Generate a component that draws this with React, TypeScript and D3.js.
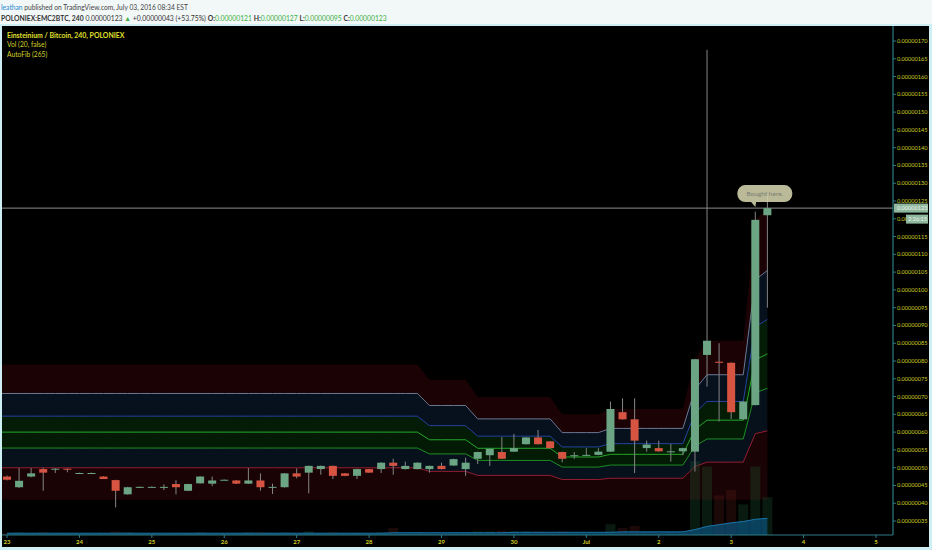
import React from "react";
import * as d3 from "d3";

const W = 932;
const H = 550;

// 4h bars of POLONIEX:EMC2BTC from Jun 23 00:00, prices in 1e-8 BTC
const barOpen = [
  47.5, 44.5, 47.5, 49.6, 49.5, 49.7, 48.5, 48.5, 47.5, 46.5,
  42.5, 44.6, 44.6, 44.6, 45.4, 43.5, 45.6, 45.5, 46.6, 46.4,
  45.5, 46.4, 44.6, 44.5, 48.4, 48.6, 49.6, 50.5, 48.4, 47.7,
  49.6, 49.6, 51.4, 49.6, 49.6, 49.6, 50.5, 50.6, 49.6, 52.5,
  53.5, 54.4, 54.5, 56.6, 58.5, 57.4, 54.4, 53.5, 53.4, 53.6,
  54.5, 65.6, 63.6, 55.5, 55.5, 54.6, 54.6, 54.5, 81.7, 79.8,
  79.5, 63.6, 67.6, 121,
];
const barHigh = [
  47.8, 49.9, 49.9, 50.0, 49.8, 49.8, 48.6, 48.6, 47.6, 46.6,
  44.6, 44.7, 44.7, 45.3, 46.5, 45.5, 47.6, 47.5, 46.7, 46.5,
  49.9, 48.4, 45.5, 48.5, 49.8, 50.6, 50.6, 50.6, 48.5, 49.7,
  49.7, 51.5, 52.5, 51.7, 51.5, 50.6, 51.4, 52.5, 52.8, 54.5,
  55.4, 58.6, 59.5, 58.6, 60.6, 57.5, 54.5, 54.4, 55.5, 55.5,
  68.6, 69.5, 69.5, 57.6, 57.6, 56.7, 55.6, 80.6, 167.5, 85.0,
  79.6, 68.7, 122.0, 127,
];
const barLow = [
  46.4, 44.3, 47.3, 43.5, 48.5, 48.7, 48.4, 48.4, 46.8, 38.8,
  42.4, 44.5, 44.5, 43.7, 42.5, 43.4, 45.5, 44.8, 46.5, 45.4,
  45.4, 43.5, 42.6, 44.4, 47.0, 42.8, 48.0, 46.8, 47.6, 46.8,
  48.5, 48.5, 48.0, 49.5, 49.5, 48.6, 49.5, 50.5, 47.7, 51.0,
  50.5, 52.4, 54.4, 56.5, 56.5, 55.4, 51.5, 52.5, 53.3, 53.5,
  54.4, 63.5, 48.5, 54.5, 54.5, 51.7, 53.5, 48.9, 72.8, 63.0,
  63.7, 63.5, 67.5, 95,
];
const barClose = [
  46.6, 46.3, 48.4, 48.6, 49.7, 49.5, 48.5, 48.5, 46.8, 43.5,
  44.5, 44.6, 44.6, 44.6, 44.5, 45.4, 47.5, 46.4, 46.6, 45.5,
  46.4, 44.5, 44.6, 48.4, 47.5, 50.5, 50.5, 47.7, 47.7, 49.6,
  48.6, 51.4, 50.5, 50.5, 51.4, 50.5, 49.6, 52.4, 51.4, 54.4,
  55.3, 52.5, 55.5, 58.5, 56.6, 55.5, 52.5, 53.5, 53.6, 54.5,
  66.5, 63.6, 57.6, 56.5, 54.6, 54.6, 55.5, 80.5, 85.7, 79.5,
  65.6, 68.6, 119.7, 123,
];
const barVolume = [
  0.2, 0.3, 0.2, 0.3, 0.1, 0.1, 0.1, 0.1, 0.2, 0.4,
  0.3, 0.1, 0.1, 0.1, 0.2, 0.2, 0.3, 0.2, 0.1, 0.2,
  0.3, 0.3, 0.2, 0.3, 0.2, 0.4, 0.2, 0.3, 0.2, 0.2,
  0.2, 0.3, 0.8, 0.2, 0.3, 0.2, 0.2, 0.3, 0.3, 0.4,
  0.4, 0.5, 0.4, 0.4, 0.4, 0.3, 0.4, 0.2, 0.2, 0.2,
  1.2, 0.8, 1.0, 0.3, 0.3, 0.3, 0.3, 8.2, 7.6, 4.4,
  5.0, 3.4, 7.6, 4.2,
];
const volumeMa = [
  0.2, 0.2, 0.2, 0.2, 0.2, 0.2, 0.2, 0.2, 0.2, 0.2,
  0.2, 0.2, 0.2, 0.2, 0.2, 0.2, 0.2, 0.2, 0.2, 0.2,
  0.2, 0.2, 0.2, 0.2, 0.2, 0.2, 0.2, 0.2, 0.2, 0.2,
  0.2, 0.2, 0.25, 0.25, 0.25, 0.25, 0.25, 0.25, 0.25, 0.25,
  0.25, 0.25, 0.3, 0.3, 0.3, 0.3, 0.3, 0.3, 0.3, 0.3,
  0.3, 0.35, 0.35, 0.35, 0.35, 0.35, 0.35, 0.6, 0.95, 1.15,
  1.35, 1.5, 1.75, 1.85,
];

// AutoFib (265): range top changes at these bars, bottom stays put
const fibHighSteps: [number, number][] = [
  [0, 79], [35, 74.7], [39, 69.9], [46, 65], [50, 66.5],
  [57, 80.5], [58, 85.7], [62, 119.7], [63, 123],
];
const fibLow = 41;
const fibLevels = [0, 0.236, 0.382, 0.5, 0.618, 0.786, 1];
const fibLineColors = [null, "#951d30", "#1d8e24", "#24a82a", "#2442a0", "#6b7894", null];
const fibFillColors = ["#1a0305", "#07111c", "#031a05", "#041c06", "#07111d", "#1b0305"];

const dayLabels = ["23", "24", "25", "26", "27", "28", "29", "30", "Jul", "2", "3", "4", "5"];
const barsPerDay = 6;
const priceTicks = d3.range(35, 171, 5);
const lastPrice = 123;
const countdown = "2:26:15";
const note = { bar: 62, price: 123, text: "Bought here." };

const UP = "#6ba583";
const DOWN = "#d75442";
const AXIS = "#2c7c84";
const YELLOW = "#cfcf24";
const FONT = "Lato, 'Open Sans', sans-serif";

const plot = { left: 2, right: 893, top: 26, bottom: 535 };

export default function App() {
  const n = barClose.length;
  const x = d3.scaleLinear().domain([0, 72]).range([7, 876]);
  const y = d3.scaleLinear().domain([35, 170]).range([521, 41]);
  const vy = d3.scaleLinear().domain([0, 10]).range([plot.bottom, plot.bottom - 90]);

  const fibHighAt = (i: number) => {
    let v = fibHighSteps[0][1];
    for (const [from, hi] of fibHighSteps) if (i >= from) v = hi;
    return v;
  };
  const bandIdx = [-1, ...d3.range(n)];
  const lvl = (i: number, f: number) => fibLow + f * (fibHighAt(Math.max(0, i)) - fibLow);

  const bandArea = (f0: number, f1: number) =>
    d3
      .area<number>()
      .x((i) => x(i))
      .y0((i) => y(lvl(i, f0)))
      .y1((i) => y(lvl(i, f1)))(bandIdx) || "";
  const bandLine = (f: number) =>
    d3
      .line<number>()
      .x((i) => x(i))
      .y((i) => y(lvl(i, f)))(bandIdx) || "";

  const maArea =
    d3
      .area<number>()
      .x((i) => x(i))
      .y0(vy(0))
      .y1((i) => vy(volumeMa[i]))(d3.range(n)) || "";
  const maLine =
    d3
      .line<number>()
      .x((i) => x(i))
      .y((i) => vy(volumeMa[i]))(d3.range(n)) || "";

  const bodyW = 8;
  const volW = 10;

  const nx = x(note.bar);
  const ny = y(note.price);
  const bubbleW = 55;
  const bubbleH = 17;
  const bx = nx - 18;
  const by = ny - bubbleH - 6;

  return (
    <svg
      width={W}
      height={H}
      style={{ position: "absolute", left: 0, top: 0, display: "block" }}
      fontFamily={FONT}
    >
      <defs>
        <clipPath id="plotClip">
          <rect x={plot.left} y={plot.top} width={plot.right - plot.left} height={plot.bottom - plot.top} />
        </clipPath>
      </defs>
      <rect x={0} y={0} width={W} height={H} fill="#f2f7f8" />
      <rect x={0} y={24} width={W} height={H - 24} fill="#cdeef2" />
      <rect x={2} y={26} width={927} height={521} fill="#000" />

      {/* header */}
      <text x={1} y={10} fontSize={6.7} fill="#444">
        <tspan fill="#2a8ad0">leathan</tspan>
        <tspan> published on TradingView.com, July 03, 2016 08:34 EST</tspan>
      </text>
      <text x={1} y={20.5} fontSize={6.8} fill="#333">
        <tspan fontWeight="bold">POLONIEX:EMC2BTC, 240</tspan>
        <tspan> 0.00000123 </tspan>
        <tspan fill="#3cb043">▲</tspan>
        <tspan> +0.00000043 (+53.75%) </tspan>
        <tspan fontWeight="bold">O:</tspan>
        <tspan fill="#3cb043">0.00000121</tspan>
        <tspan fontWeight="bold"> H:</tspan>
        <tspan fill="#3cb043">0.00000127</tspan>
        <tspan fontWeight="bold"> L:</tspan>
        <tspan fill="#3cb043">0.00000095</tspan>
        <tspan fontWeight="bold"> C:</tspan>
        <tspan fill="#3cb043">0.00000123</tspan>
      </text>

      <g clipPath="url(#plotClip)">
        {/* fib fills and lines */}
        {fibFillColors.map((c, k) => (
          <path key={"f" + k} d={bandArea(fibLevels[k], fibLevels[k + 1])} fill={c} />
        ))}
        {fibLevels.map((f, k) =>
          fibLineColors[k] ? (
            <path key={"l" + k} d={bandLine(f)} fill="none" stroke={fibLineColors[k] as string} strokeWidth={1} />
          ) : null
        )}

        {/* volume */}
        {barVolume.map((v, i) => (
          <rect
            key={"v" + i}
            x={x(i) - volW / 2}
            y={vy(v)}
            width={volW}
            height={vy(0) - vy(v)}
            fill={barClose[i] >= barOpen[i] ? "#1f5a34" : "#5a1f1a"}
            opacity={0.3}
          />
        ))}
        <path d={maArea} fill="#0b5078" opacity={0.75} />
        <path d={maLine} fill="none" stroke="#1a74a8" strokeWidth={1} />

        {/* last price line */}
        <line x1={plot.left} x2={plot.right} y1={y(lastPrice)} y2={y(lastPrice)} stroke="#8c8c8c" strokeWidth={1} />

        {/* candles */}
        {barClose.map((c, i) => {
          const o = barOpen[i];
          const up = c >= o;
          const top = y(Math.max(o, c));
          const h = Math.max(1, y(Math.min(o, c)) - top);
          return (
            <g key={"c" + i}>
              <line x1={x(i)} x2={x(i)} y1={y(barHigh[i])} y2={y(barLow[i])} stroke="#858585" strokeWidth={1} />
              <rect x={x(i) - bodyW / 2} y={top} width={bodyW} height={h} fill={up ? UP : DOWN} />
            </g>
          );
        })}

        {/* note bubble */}
        <g opacity={0.9}>
          <path
            d={`M${nx - 5},${by + bubbleH - 1} L${nx},${ny - 1} L${nx + 1},${by + bubbleH - 1} Z`}
            fill="#cfcfa9"
          />
          <rect x={bx} y={by} width={bubbleW} height={bubbleH} rx={8} fill="#cfcfa9" />
          <text x={bx + bubbleW / 2} y={by + bubbleH / 2 + 2.2} fontSize={6.5} fill="#8a8a80" textAnchor="middle">
            {note.text}
          </text>
        </g>
      </g>

      {/* legend */}
      <text x={7} y={37.5} fontSize={6.9} fontWeight="bold" fill="#e2e22c">
        Einsteinium / Bitcoin, 240, POLONIEX
      </text>
      <text x={7} y={47} fontSize={6.7} fill="#d2d22a">
        Vol (20, false)
      </text>
      <text x={7} y={56.5} fontSize={6.7} fill="#d2d22a">
        AutoFib (265)
      </text>

      {/* axes */}
      <line x1={plot.left} x2={plot.right} y1={plot.bottom} y2={plot.bottom} stroke={AXIS} strokeWidth={1.2} />
      <line x1={plot.right} x2={plot.right} y1={plot.top} y2={plot.bottom} stroke={AXIS} strokeWidth={1.2} />
      {priceTicks.map((p) => (
        <g key={"p" + p}>
          <line x1={plot.right} x2={plot.right + 3} y1={y(p)} y2={y(p)} stroke={AXIS} />
          <text x={plot.right + 4} y={y(p) + 2} fontSize={5.6} fill={YELLOW}>
            {(p * 1e-8).toFixed(8)}
          </text>
        </g>
      ))}
      {dayLabels.map((d, k) => (
        <g key={"d" + k}>
          <line x1={x(k * barsPerDay)} x2={x(k * barsPerDay)} y1={plot.bottom} y2={plot.bottom + 3} stroke={AXIS} />
          <text x={x(k * barsPerDay)} y={543.5} fontSize={6} fontWeight="bold" fill={YELLOW} textAnchor="middle">
            {d}
          </text>
        </g>
      ))}

      {/* last price labels */}
      <rect x={plot.right + 1} y={y(lastPrice) - 4.5} width={34} height={9} fill="#8fb79e" />
      <text x={plot.right + 4} y={y(lastPrice) + 2} fontSize={5.6} fill="#eef4ef">
        {(lastPrice * 1e-8).toFixed(8)}
      </text>
      <rect x={plot.right + 13} y={y(lastPrice) + 6.5} width={22} height={9} fill="#8fb79e" />
      <text x={plot.right + 15} y={y(lastPrice) + 13} fontSize={5.6} fill="#eef4ef">
        {countdown}
      </text>
    </svg>
  );
}
